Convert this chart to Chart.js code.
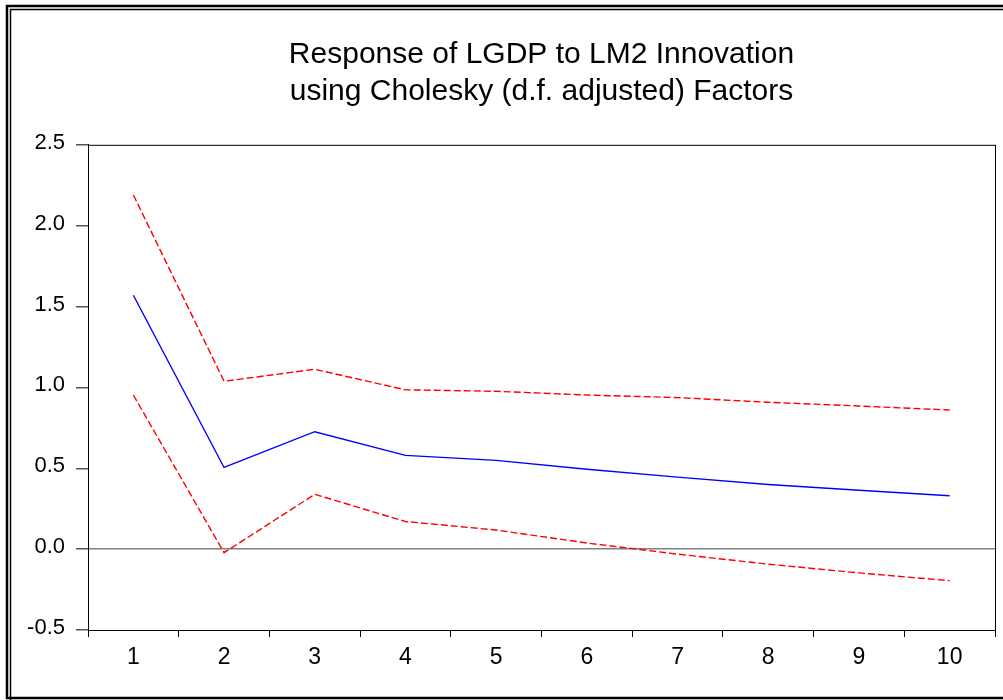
<!DOCTYPE html>
<html>
<head>
<meta charset="utf-8">
<script src="https://cdn.jsdelivr.net/npm/chart.js@4/dist/chart.umd.min.js"></script>
<style>
  html, body { margin: 0; padding: 0; background: #fff; }
  canvas { display: block; }
</style>
</head>
<body>
<canvas id="irfChart" width="1003" height="700"></canvas>
<script>
// periodos del impulso-respuesta
var periodos = ['1', '2', '3', '4', '5', '6', '7', '8', '9', '10'];
// respuesta de LGDP a un choque de LM2
var respuesta = [1.57, 0.505, 0.726, 0.58, 0.549, 0.494, 0.445, 0.40, 0.364, 0.33];
// bandas +/- 2 errores estandar
var bandaSuperior = [2.19, 1.038, 1.112, 0.985, 0.976, 0.953, 0.937, 0.908, 0.885, 0.86];
var bandaInferior = [0.953, -0.022, 0.339, 0.171, 0.118, 0.038, -0.031, -0.093, -0.147, -0.195];
var titulo = ['Response of LGDP to LM2 Innovation', 'using Cholesky (d.f. adjusted) Factors'];

// marco doble y caja del grafico
var marcoPlugin = {
    id: 'marco',
    afterDraw: function(chart) {
        var ctx = chart.ctx;
        var a = chart.chartArea;
        ctx.save();
        ctx.strokeStyle = '#000';
        ctx.lineWidth = 2.5;
        ctx.strokeRect(7, 6, 1010, 692);
        ctx.lineWidth = 1.5;
        ctx.strokeRect(10.5, 9.5, 1010, 700);
        ctx.lineWidth = 1;
        ctx.strokeRect(a.left + 0.5, a.top + 0.5, a.right - a.left, a.bottom - a.top);
        ctx.restore();
    }
};

var fuente = 'Arial, "Liberation Sans", sans-serif';

var ctx = document.getElementById('irfChart').getContext('2d');
new Chart(ctx, {
    type: 'line',
    data: {
        labels: periodos,
        datasets: [
            {
                label: 'Respuesta',
                data: respuesta,
                borderColor: '#0000ff',
                borderWidth: 1.4,
                pointRadius: 0,
                tension: 0
            },
            {
                label: 'Superior',
                data: bandaSuperior,
                borderColor: '#ff0000',
                borderWidth: 1.4,
                borderDash: [7, 3],
                pointRadius: 0,
                tension: 0
            },
            {
                label: 'Inferior',
                data: bandaInferior,
                borderColor: '#ff0000',
                borderWidth: 1.4,
                borderDash: [7, 3],
                pointRadius: 0,
                tension: 0
            }
        ]
    },
    options: {
        responsive: false,
        animation: false,
        devicePixelRatio: 1,
        layout: { padding: { left: 0, top: 0, right: 8, bottom: 0 } },
        plugins: {
            legend: { display: false },
            tooltip: { enabled: false },
            title: {
                display: true,
                text: titulo,
                fullSize: false,
                color: '#000',
                font: { family: fuente, size: 30, weight: 'normal', lineHeight: 1.23 },
                padding: { top: 36, bottom: 35 }
            }
        },
        scales: {
            x: {
                type: 'category',
                offset: true,
                afterFit: function(s) { s.height = 70; },
                grid: { offset: true, drawOnChartArea: false, tickLength: 7, color: '#000', tickColor: '#000' },
                border: { display: true, color: '#000', width: 1 },
                ticks: {
                    color: '#000',
                    padding: 7,
                    font: { family: fuente, size: 23 }
                }
            },
            y: {
                min: -0.5,
                max: 2.5,
                afterFit: function(s) { s.width = 88; },
                grid: {
                    tickLength: 12,
                    lineWidth: 1.5,
                    color: function(c) { return c.tick && c.tick.value === 0 ? '#808080' : 'rgba(0,0,0,0)'; },
                    tickColor: '#555',
                    tickWidth: 1.5
                },
                border: { display: true, color: '#000', width: 1 },
                ticks: {
                    stepSize: 0.5,
                    color: '#000',
                    padding: 11,
                    labelOffset: -2,
                    font: { family: fuente, size: 22 },
                    callback: function(v) { return v.toFixed(1); }
                }
            }
        }
    },
    plugins: [marcoPlugin]
});
</script>
</body>
</html>
